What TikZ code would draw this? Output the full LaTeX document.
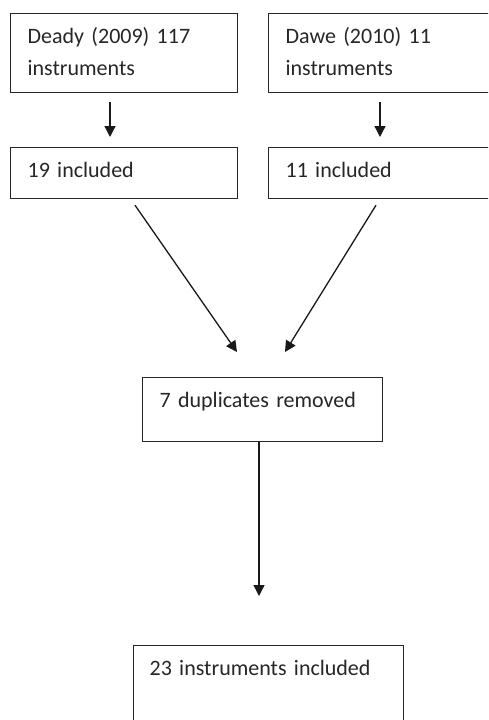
\documentclass[tikz,border=0pt]{standalone}
\usepackage{fontspec}
\setmainfont{Carlito}
\usetikzlibrary{arrows.meta,positioning}
\tikzset{box/.style={draw=black!85, line width=1.2pt, anchor=north west, align=left,
        inner xsep=17pt, inner ysep=7.6pt, text=black!85,
        font=\fontsize{22}{32}\selectfont},
    link/.style={color=black!90, line width=1.3pt, -{Triangle[length=11pt,width=11pt]}}}

\begin{document}
\begin{tikzpicture}[x=1pt, y=-1pt]
                \path[use as bounding box, clip] (0,0) rectangle (488,720);

                % sources
                \node[box, text width=193pt] (deady) at (10,13) {\strut Deady (2009) 117\\\strut instruments};
                \node[box, text width=193pt] (dawe) at (268,13) {\strut Dawe (2010) 11\\\strut instruments};

                \node[box, text width=193pt, text height=22.4pt, text depth=13.4pt] (deadyin) at (10,147) {19 included};
                \node[box, text width=193pt, text height=22.4pt, text depth=13.4pt] (dawein) at (268,147) {11 included};

                % merge
                \node[box, text width=206pt, text height=22.4pt, text depth=26.4pt] (dup) at (142,377) {7 duplicates removed};
                \node[box, text width=238pt, text height=22.4pt, text depth=62.4pt, inner xsep=16pt] (final) at (133,645) {23 instruments included};

                \draw[link] ([xshift=100pt,yshift=-9pt]deady.south west) -- ([xshift=100pt,yshift=10pt]deadyin.north west);
                \draw[link] ([xshift=112pt,yshift=-9pt]dawe.south west) -- ([xshift=112pt,yshift=10pt]dawein.north west);
                \draw[link] ([xshift=125pt,yshift=-6pt]deadyin.south west) -- ([xshift=95pt,yshift=25pt]dup.north west);
                \draw[link] ([xshift=108pt,yshift=-6pt]dawein.south west) -- ([xshift=143pt,yshift=25pt]dup.north west);
                \draw[link] ([xshift=117pt]dup.south west) -- ([xshift=126pt,yshift=49pt]final.north west);
            \end{tikzpicture}
\end{document}
